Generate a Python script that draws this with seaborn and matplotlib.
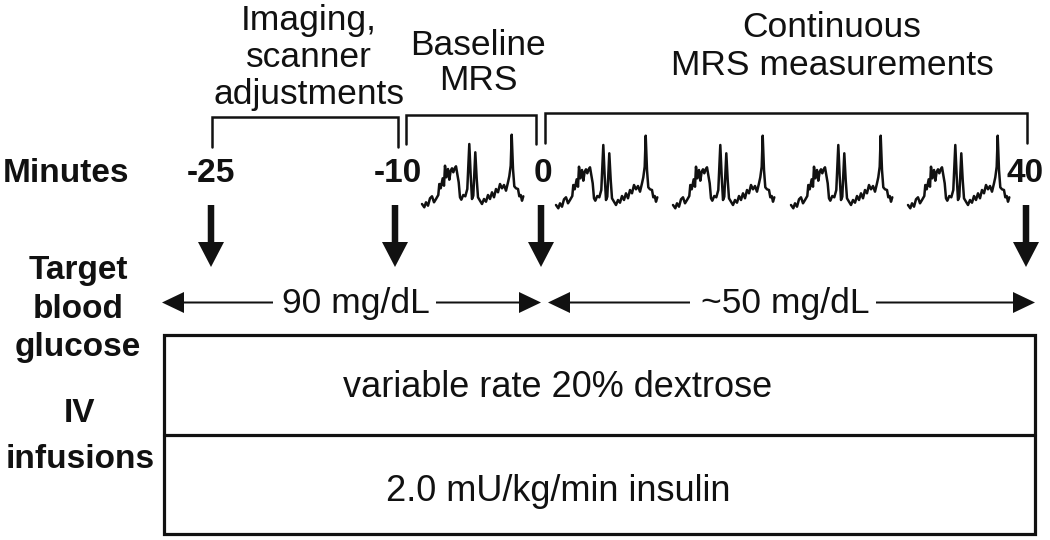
# study timeline diagram: MRS during hypoglycemic clamp
import numpy as np
import pandas as pd
import seaborn as sns
import matplotlib.pyplot as plt
from matplotlib.patches import Rectangle

# timeline text
minute_labels = ["-25", "-10", "0", "40"]
phase_labels = ["Imaging,\nscanner\nadjustments", "Baseline\nMRS", "Continuous\nMRS measurements"]
glucose_targets = ["90 mg/dL", "~50 mg/dL"]
infusions = ["variable rate 20% dextrose", "2.0 mU/kg/min insulin"]
row_labels = ["Minutes", "Target\nblood\nglucose", "IV\ninfusions"]

# one MRS spectrum (offset along the trace, peak height)
spec_x = [0, 2.3, 4, 6, 8, 10, 12, 14, 16.3, 17.3, 18.7, 20.7, 22, 23, 24.3, 26, 27.3, 28.7,
          30, 31.3, 32.7, 34, 35.3, 36.7, 38, 39.3, 41.3, 43.3, 45.3, 47.3, 48.7, 50, 51.3,
          53.3, 54.7, 56, 58, 60, 62, 64, 66, 68, 70, 72, 74, 76, 78, 80, 82, 84, 86, 87.3,
          88.7, 89.7, 91, 92.3, 94, 96, 97.3, 98.7, 100, 101.3]
spec_h = [5, 1.7, 6.7, 3.3, 10.7, 12.7, 6.7, 10, 14, 25, 20.7, 30.7, 23.3, 43.3, 31.7, 40, 29.3,
          38.3, 40.7, 36.7, 40.7, 42.7, 35, 26.7, 11.7, 9.3, 14, 12.7, 20, 65, 33.3, 10, 13.3,
          56.7, 30, 11.7, 8.3, 5, 10, 7.3, 14, 10, 16.7, 11.7, 20, 16.7, 25, 20.7, 24, 18.3,
          26.7, 32.7, 43.3, 74.3, 40, 22.7, 20.7, 20, 12.7, 14, 8.3, 12.7]
n_scans = 5  # 1 baseline + 4 continuous

sns.set_theme(style="white")
plt.rcParams['font.family'] = ['Liberation Sans', 'DejaVu Sans']

fig = plt.figure(figsize=(10.5, 5.4), dpi=100)
ax = fig.add_axes([0, 0, 1, 1])
ink = "#111111"
fs_reg = 25.5

# spectra
spec_x0 = [422, 556, 673, 791, 908]
spec_base = [209, 210, 210, 210, 210]
rows = []
for i in range(n_scans):
    for sx, sh in zip(spec_x, spec_h):
        rows.append({"scan": i, "x": spec_x0[i] + sx, "y": spec_base[i] - sh})
df = pd.DataFrame(rows)
sns.lineplot(data=df, x="x", y="y", units="scan", estimator=None, sort=False,
             color=ink, lw=1.8, legend=False, ax=ax)

# row labels
ax.text(3, 182, row_labels[0], fontsize=24, fontweight="bold", ha="left", va="baseline", color=ink)
for t, y in zip(row_labels[1].split("\n"), [279, 318, 356]):
    ax.text(78, y, t, fontsize=24, fontweight="bold", ha="center", va="baseline", color=ink)
for t, y in zip(row_labels[2].split("\n"), [422, 468]):
    ax.text(80, y, t, fontsize=24, fontweight="bold", ha="center", va="baseline", color=ink)

# minute marks and down arrows
tick_x = [211, 398, 543, 1025]
arrow_x = [211, 395, 541, 1026]
for lab, tx, axx in zip(minute_labels, tick_x, arrow_x):
    ax.text(tx, 182, lab, fontsize=24, fontweight="bold", ha="center", va="baseline", color=ink)
    ax.arrow(axx, 205, 0, 62, width=6.5, head_width=26, head_length=25,
             length_includes_head=True, fc=ink, ec=ink, lw=0)

# phase brackets and labels
brackets = [(212, 398, 117, 147), (406, 536, 115, 144), (545, 1027, 113, 143)]
for x0, x1, top, bot in brackets:
    ax.plot([x0, x0, x1, x1], [bot, top, top, bot], color=ink, lw=1.8, solid_joinstyle="miter")
phase_pos = [(309, [30, 67, 104]), (478, [55, 90]), (832, [37, 75])]
for lab, (cx, ys) in zip(phase_labels, phase_pos):
    for t, y in zip(lab.split("\n"), ys):
        ax.text(cx, y, t, fontsize=fs_reg, ha="center", va="baseline", color=ink)

# glucose targets with double arrows
gy = 302.5
spans = [(162, 273, 436, 541, 356), (548, 690, 876, 1035, 785)]
for lab, (l0, l1, r0, r1, cx) in zip(glucose_targets, spans):
    ax.arrow(l1, gy, l0 - l1, 0, width=2.0, head_width=21, head_length=22,
             length_includes_head=True, fc=ink, ec=ink, lw=0)
    ax.arrow(r0, gy, r1 - r0, 0, width=2.0, head_width=21, head_length=22,
             length_includes_head=True, fc=ink, ec=ink, lw=0)
    ax.text(cx, 313, lab, fontsize=fs_reg, ha="center", va="baseline", color=ink)

# infusion box
ax.add_patch(Rectangle((164, 335), 871, 199, fill=False, lw=2.3, ec=ink))
ax.plot([164, 1035], [435, 435], color=ink, lw=2.3)
for lab, y in zip(infusions, [397, 501]):
    ax.text(558, y, lab, fontsize=26, ha="center", va="baseline", color=ink)

ax.set_xlim(0, 1050)
ax.set_ylim(540, 0)
ax.axis("off")
fig.savefig("out.png", dpi=100, facecolor="white")
